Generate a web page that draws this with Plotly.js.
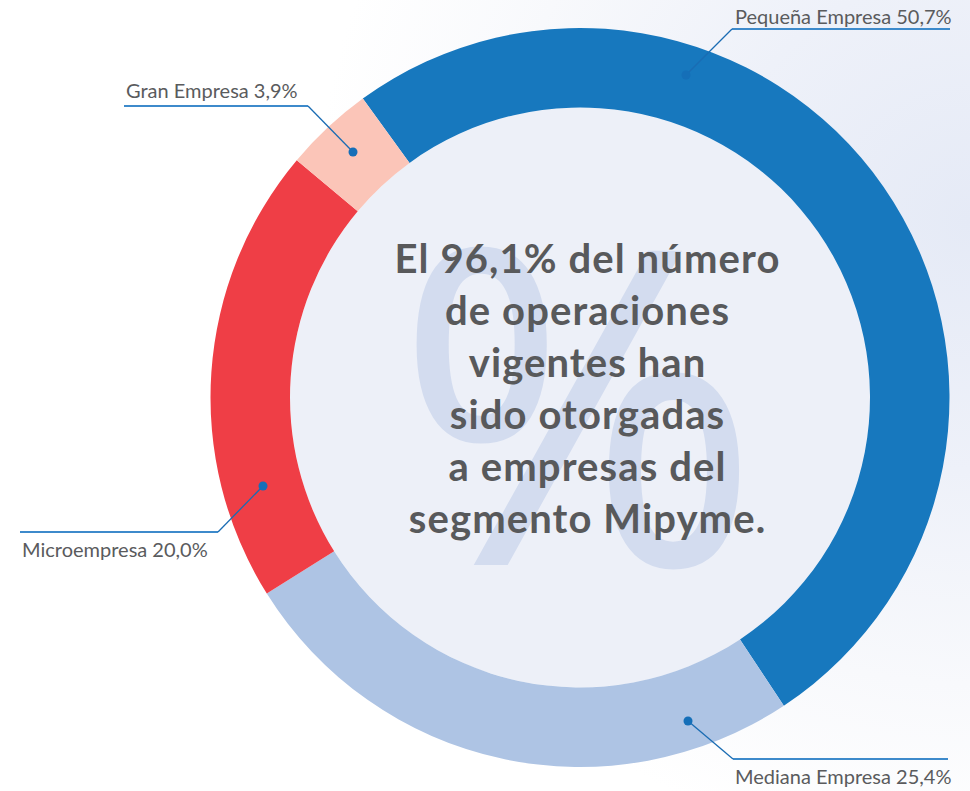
<!DOCTYPE html>
<html>
<head>
<meta charset="utf-8">
<script src="https://cdn.plot.ly/plotly-3.0.1.min.js"></script>
<style>
  html, body { margin: 0; padding: 0; }
  body {
    width: 970px; height: 791px; overflow: hidden;
    background: radial-gradient(ellipse 75% 90% at 100% 28%, #e5eaf6 0%, #eef1f9 35%, #f8f9fc 65%, #ffffff 90%);
  }
  #chart { width: 970px; height: 791px; }
  g.annotation[data-index="5"] text.annotation-text { letter-spacing: 1.1px; }
</style>
</head>
<body>
<div id="chart"></div>
<script>
// ---- data ----
const segments = ["Pequeña Empresa", "Mediana Empresa", "Microempresa", "Gran Empresa"];
const shares = [50.7, 25.4, 20.0, 3.9];
const labelTexts = ["Pequeña Empresa 50,7%", "Mediana Empresa 25,4%", "Microempresa 20,0%", "Gran Empresa 3,9%"];
const centerLines = ["El 96,1% del número", "de operaciones", "vigentes han", "sido otorgadas", "a empresas del", "segmento Mipyme."];

// ---- styling / layout helpers ----
const W = 970, H = 791;
const colors = ["#1778be", "#aec4e4", "#ef3e46", "#fbc5b8"];
const px = x => x / W;
const py = y => 1 - y / H;
const cx = 580, cy = 397.5, rOut = 369.5, rIn = 290;

// leader-line geometry for each label (pixel space): dot, elbow, end of underline, text anchor
const leaders = [
  {dot: [686, 75],  elbow: [732, 29],  end: [950, 29],  text: [733, 16],  anchor: "left"},
  {dot: [688, 721], elbow: [733, 759], end: [948, 759], text: [733, 776], anchor: "left"},
  {dot: [263, 486], elbow: [218, 532], end: [20, 532],  text: [20, 549],  anchor: "left"},
  {dot: [353, 152], elbow: [308, 106], end: [124, 106], text: [124, 90],  anchor: "left"}
];

const shapes = [{
  type: "circle", xref: "paper", yref: "paper", layer: "below",
  x0: px(cx - rIn), x1: px(cx + rIn), y0: py(cy + rIn), y1: py(cy - rIn),
  fillcolor: "#edf0f8", line: {width: 0}
}];
const annotations = [{
  xref: "paper", yref: "paper", x: px(578), y: py(394), xanchor: "center", yanchor: "middle",
  text: "%", showarrow: false,
  font: {family: "Noto Sans", size: 440, color: "#d3dcef"}
}];

leaders.forEach((L, i) => {
  shapes.push({
    type: "line", xref: "paper", yref: "paper",
    x0: px(L.elbow[0]), y0: py(L.elbow[1]), x1: px(L.end[0]), y1: py(L.end[1]),
    line: {color: "#3d8acb", width: 2}
  });
  shapes.push({
    type: "line", xref: "paper", yref: "paper",
    x0: px(L.dot[0]), y0: py(L.dot[1]), x1: px(L.elbow[0]), y1: py(L.elbow[1]),
    line: {color: "#1a6cb3", width: 1.3}
  });
  shapes.push({
    type: "circle", xref: "paper", yref: "paper",
    x0: px(L.dot[0] - 4.5), x1: px(L.dot[0] + 4.5), y0: py(L.dot[1] + 4.5), y1: py(L.dot[1] - 4.5),
    fillcolor: "#156fb8", line: {width: 0}
  });
  annotations.push({
    xref: "paper", yref: "paper", x: px(L.text[0]), y: py(L.text[1]),
    xanchor: L.anchor, yanchor: "middle", showarrow: false,
    text: labelTexts[i],
    font: {family: "Lato", size: 20, color: "#5a5b5d"}
  });
});

annotations.push({
  xref: "paper", yref: "paper", x: px(587), y: py(388), xanchor: "center", yanchor: "middle",
  text: centerLines.join("<br>"), showarrow: false, align: "center",
  font: {family: "Lato", size: 40, color: "#58595b", weight: 700}
});

const trace = {
  type: "pie",
  labels: segments,
  values: shares,
  marker: {colors: colors, line: {width: 0}},
  hole: rIn / rOut,
  sort: false,
  direction: "clockwise",
  rotation: -36,
  textinfo: "none",
  hoverinfo: "label+percent",
  showlegend: false,
  domain: {x: [px(cx - rOut), px(cx + rOut)], y: [py(cy + rOut), py(cy - rOut)]}
};

Plotly.newPlot("chart", [trace], {
  width: W, height: H,
  margin: {l: 0, r: 0, t: 0, b: 0},
  paper_bgcolor: "rgba(0,0,0,0)",
  plot_bgcolor: "rgba(0,0,0,0)",
  showlegend: false,
  shapes: shapes,
  annotations: annotations
}, {displayModeBar: false, staticPlot: true});
</script>
</body>
</html>
